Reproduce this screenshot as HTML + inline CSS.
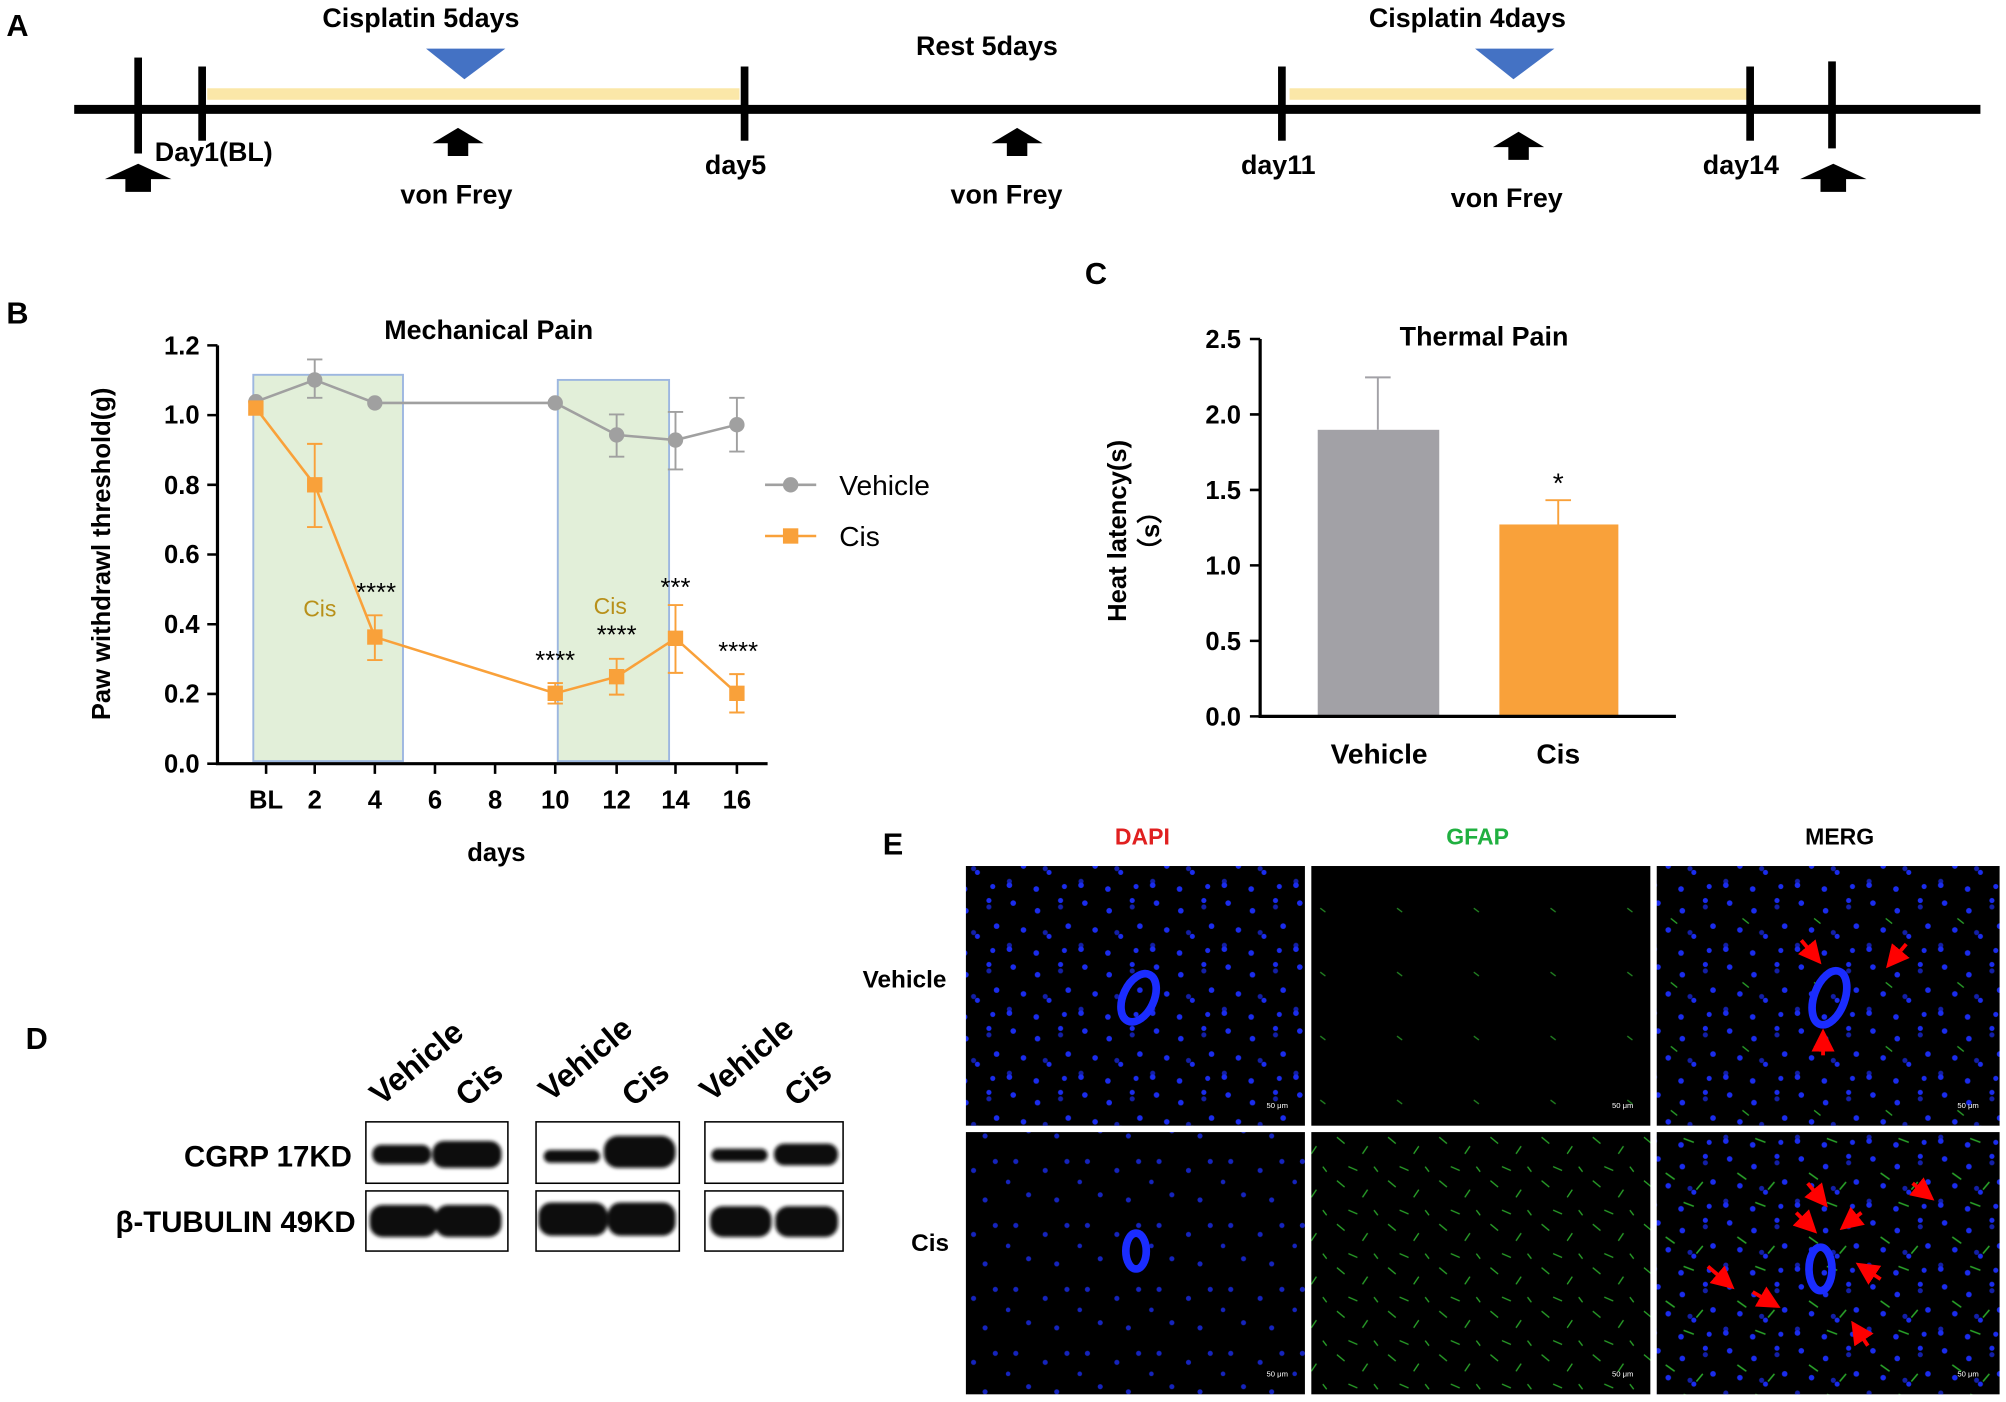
<!DOCTYPE html>
<html><head><meta charset="utf-8"><style>
html,body{margin:0;padding:0;background:#fff;}
svg{display:block;}
text{font-family:"Liberation Sans",Arial,sans-serif;}
</style></head><body>
<svg width="2006" height="1402" viewBox="0 0 1568 1096" preserveAspectRatio="none" xmlns="http://www.w3.org/2000/svg">
<defs>
<pattern id="dots" width="56" height="50" patternUnits="userSpaceOnUse">
<rect width="56" height="50" fill="#000"/>
<g fill="#1a2cee">
<circle cx="8" cy="6" r="2.2"/><circle cx="27" cy="12" r="2.2"/><circle cx="45" cy="4" r="2"/><circle cx="51" cy="24" r="2.2"/>
<circle cx="16" cy="27" r="2.2"/><circle cx="36" cy="32" r="2"/><circle cx="5" cy="42" r="2.2"/><circle cx="26" cy="45" r="2.2"/><circle cx="48" cy="43" r="2"/>
</g></pattern>
<pattern id="dots2" width="56" height="50" patternUnits="userSpaceOnUse">
<rect width="56" height="50" fill="#000"/>
<g fill="#1a2cee" opacity="0.8">
<circle cx="10" cy="8" r="2"/><circle cx="33" cy="15" r="2"/><circle cx="50" cy="8" r="2"/><circle cx="20" cy="34" r="2"/><circle cx="42" cy="38" r="2"/><circle cx="4" cy="24" r="1.8"/>
</g></pattern>
<pattern id="green" width="40" height="34" patternUnits="userSpaceOnUse">
<rect width="40" height="34" fill="#000"/>
<g stroke="#2aa82a" stroke-width="1"><path d="M5 5 l6 5"/><path d="M25 18 l4 -6"/><path d="M14 28 l7 3"/><path d="M34 28 l3 4"/></g>
</pattern>
<pattern id="greenS" width="60" height="50" patternUnits="userSpaceOnUse">
<rect width="60" height="50" fill="#000"/>
<g stroke="#238a23" stroke-width="1"><path d="M12 10 l4 3"/></g>
</pattern>
<pattern id="mergeV" width="56" height="50" patternUnits="userSpaceOnUse">
<rect width="56" height="50" fill="url(#dots)"/>
<g stroke="#2aa82a" stroke-width="1"><path d="M18 18 l5 4"/></g>
</pattern>
<pattern id="mergeC" width="56" height="50" patternUnits="userSpaceOnUse">
<rect width="56" height="50" fill="url(#dots)"/>
<g stroke="#2aa82a" stroke-width="1.2"><path d="M14 17 l7 5"/><path d="M38 30 l5 -6"/><path d="M28 40 l8 3"/></g>
</pattern>
<pattern id="dotsB" width="56" height="50" patternUnits="userSpaceOnUse" x="23" y="19">
<g fill="#1a2cee" opacity="0.7"><circle cx="10" cy="10" r="2"/><circle cx="38" cy="20" r="2"/><circle cx="22" cy="40" r="2"/></g>
</pattern>
<marker id="ra" markerWidth="6" markerHeight="6" refX="3" refY="3" orient="auto"><path d="M0 0 L6 3 L0 6z" fill="#f00"/></marker>
<filter id="blur"><feGaussianBlur stdDeviation="1.5"/></filter>
</defs>

<!-- Panel A -->
<text x="5" y="28" font-size="24" font-weight="bold">A</text>
<rect x="58" y="82" width="1490" height="7" fill="#000"/>
<rect x="162" y="69" width="416" height="9" fill="#fbe7a8"/>
<rect x="1008" y="69" width="358" height="9" fill="#fbe7a8"/>
<g fill="#000">
<rect x="105" y="45" width="6" height="75"/><rect x="155" y="52" width="6" height="58"/>
<rect x="579" y="52" width="6" height="58"/><rect x="999" y="52" width="6" height="58"/>
<rect x="1365" y="52" width="6" height="58"/><rect x="1429" y="48" width="6" height="68"/>
</g>
<path d="M333 38 L395 38 L363 62z" fill="#4472c4"/>
<path d="M1153 38 L1215 38 L1183 62z" fill="#4472c4"/>
<g fill="#000">
<path d="M82 140 L108 128 L134 140 L118 140 L118 150 L98 150 L98 140z"/>
<path d="M338 112 L358 100 L378 112 L366 112 L366 122 L350 122 L350 112z"/>
<path d="M775 112 L795 100 L815 112 L803 112 L803 122 L787 122 L787 112z"/>
<path d="M1167 115 L1187 103 L1207 115 L1195 115 L1195 125 L1179 125 L1179 115z"/>
<path d="M1407 140 L1433 128 L1459 140 L1443 140 L1443 150 L1423 150 L1423 140z"/>
</g>
<g font-size="21" font-weight="bold">
<text x="252" y="21">Cisplatin 5days</text>
<text x="716" y="43">Rest 5days</text>
<text x="1070" y="21">Cisplatin 4days</text>
<text x="121" y="126">Day1(BL)</text>
<text x="313" y="159">von Frey</text>
<text x="551" y="136">day5</text>
<text x="743" y="159">von  Frey</text>
<text x="970" y="136">day11</text>
<text x="1134" y="162">von  Frey</text>
<text x="1331" y="136">day14</text>
</g>

<!-- Panel B -->
<text x="5" y="253" font-size="24" font-weight="bold">B</text>
<text x="382" y="265" font-size="21" font-weight="bold" text-anchor="middle">Mechanical Pain</text>
<rect x="198" y="293" width="117" height="302" fill="#e2efd9" stroke="#9db7e0" stroke-width="1.5"/>
<rect x="436" y="297" width="87" height="298" fill="#e2efd9" stroke="#9db7e0" stroke-width="1.5"/>
<text x="237" y="482" font-size="18" fill="#b8901a">Cis</text>
<text x="464" y="480" font-size="18" fill="#b8901a">Cis</text>
<g stroke="#000" stroke-width="2.5" fill="none">
<path d="M170 270 V597 H600"/>
</g>
<g stroke="#000" stroke-width="2">
<path d="M162 270h8M162 324.5h8M162 379h8M162 433.5h8M162 488h8M162 542.5h8M162 597h8"/>
<path d="M208 597v8M246 597v8M293 597v8M340 597v8M387 597v8M434 597v8M482 597v8M528 597v8M576 597v8"/>
</g>
<g font-size="20" font-weight="bold" text-anchor="end">
<text x="156" y="277">1.2</text><text x="156" y="331">1.0</text><text x="156" y="386">0.8</text><text x="156" y="440">0.6</text><text x="156" y="495">0.4</text><text x="156" y="549">0.2</text><text x="156" y="604">0.0</text>
</g>
<g font-size="20" font-weight="bold" text-anchor="middle">
<text x="208" y="632">BL</text><text x="246" y="632">2</text><text x="293" y="632">4</text><text x="340" y="632">6</text><text x="387" y="632">8</text><text x="434" y="632">10</text><text x="482" y="632">12</text><text x="528" y="632">14</text><text x="576" y="632">16</text>
<text x="388" y="673">days</text>
</g>
<text transform="translate(86 433) rotate(-90)" font-size="20" font-weight="bold" text-anchor="middle">Paw withdrawl threshold(g)</text>
<g stroke="#a0a0a0" stroke-width="1.5" fill="none">
<path d="M246 281v30M240 281h12M240 311h12M482 324v33M476 324h12M476 357h12M528 322v45M522 322h12M522 367h12M576 311v42M570 311h12M570 353h12"/>
<path d="M200 314 L246 297 L293 315 L434 315 L482 340 L528 344 L576 332" stroke-width="2"/>
</g>
<g fill="#a0a0a0"><circle cx="200" cy="314" r="6"/><circle cx="246" cy="297" r="6"/><circle cx="293" cy="315" r="6"/><circle cx="434" cy="315" r="6"/><circle cx="482" cy="340" r="6"/><circle cx="528" cy="344" r="6"/><circle cx="576" cy="332" r="6"/></g>
<g stroke="#f9a13a" stroke-width="1.5" fill="none">
<path d="M246 347v65M240 347h12M240 412h12M293 481v35M287 481h12M287 516h12M434 534v16M428 534h12M428 550h12M482 515v28M476 515h12M476 543h12M528 473v53M522 473h12M522 526h12M576 527v30M570 527h12M570 557h12"/>
<path d="M200 319 L246 379 L293 498 L434 542 L482 529 L528 499 L576 542" stroke-width="2"/>
</g>
<g fill="#f9a13a"><rect x="194" y="313" width="12" height="12"/><rect x="240" y="373" width="12" height="12"/><rect x="287" y="492" width="12" height="12"/><rect x="428" y="536" width="12" height="12"/><rect x="476" y="523" width="12" height="12"/><rect x="522" y="493" width="12" height="12"/><rect x="570" y="536" width="12" height="12"/></g>
<g font-size="20" text-anchor="middle">
<text x="294" y="470">****</text><text x="434" y="523">****</text><text x="482" y="503">****</text><text x="528" y="466">***</text><text x="577" y="516">****</text>
</g>
<path d="M598 379h40" stroke="#a0a0a0" stroke-width="2"/><circle cx="618" cy="379" r="6" fill="#a0a0a0"/>
<text x="656" y="387" font-size="22">Vehicle</text>
<path d="M598 419h40" stroke="#f9a13a" stroke-width="2"/><rect x="612" y="413" width="12" height="12" fill="#f9a13a"/>
<text x="656" y="427" font-size="22">Cis</text>

<!-- Panel C -->
<text x="848" y="222" font-size="24" font-weight="bold">C</text>
<text x="1160" y="270" font-size="21" font-weight="bold" text-anchor="middle">Thermal Pain</text>
<rect x="1030" y="336" width="95" height="224" fill="#a2a1a6"/>
<rect x="1172" y="410" width="93" height="150" fill="#f9a13a"/>
<g stroke="#a2a1a6" stroke-width="1.5"><path d="M1077 336v-41M1067 295h20"/></g>
<g stroke="#f9a13a" stroke-width="1.5"><path d="M1218 410v-19M1208 391h20"/></g>
<text x="1218" y="385" font-size="22" text-anchor="middle">*</text>
<g stroke="#000" stroke-width="2.5" fill="none"><path d="M985 265V560H1310"/></g>
<g stroke="#000" stroke-width="2"><path d="M977 265h8M977 324h8M977 383h8M977 442h8M977 501h8M977 560h8"/></g>
<g font-size="20" font-weight="bold" text-anchor="end">
<text x="970" y="272">2.5</text><text x="970" y="331">2.0</text><text x="970" y="390">1.5</text><text x="970" y="449">1.0</text><text x="970" y="508">0.5</text><text x="970" y="567">0.0</text>
</g>
<g font-size="22" font-weight="bold" text-anchor="middle"><text x="1078" y="597">Vehicle</text><text x="1218" y="597">Cis</text></g>
<text transform="translate(880 415) rotate(-90)" font-size="20" font-weight="bold" text-anchor="middle">Heat latency(s)</text>
<text transform="translate(906 415) rotate(-90)" font-size="20" font-weight="bold" text-anchor="middle">（s）</text>

<!-- Panel D -->
<text x="20" y="820" font-size="24" font-weight="bold">D</text>
<g font-size="25" font-weight="bold">
<text transform="translate(298 865) rotate(-40)">Vehicle</text><text transform="translate(365 866) rotate(-40)">Cis</text>
<text transform="translate(430 862) rotate(-40)">Vehicle</text><text transform="translate(495 866) rotate(-40)">Cis</text>
<text transform="translate(556 862) rotate(-40)">Vehicle</text><text transform="translate(622 866) rotate(-40)">Cis</text>
</g>
<text x="275" y="912" font-size="23" font-weight="bold" text-anchor="end">CGRP 17KD</text>
<text x="278" y="963" font-size="23" font-weight="bold" text-anchor="end">β-TUBULIN 49KD</text>
<g fill="#fff" stroke="#000" stroke-width="1.2">
<rect x="286" y="877" width="111" height="48"/><rect x="419" y="877" width="112" height="48"/><rect x="551" y="877" width="108" height="48"/>
<rect x="286" y="931" width="111" height="47"/><rect x="419" y="931" width="112" height="47"/><rect x="551" y="931" width="108" height="47"/>
</g>
<g fill="#111" filter="url(#blur)">
<rect x="291" y="895" width="46" height="15" rx="7"/><rect x="338" y="892" width="54" height="21" rx="9"/>
<rect x="425" y="899" width="44" height="10" rx="5"/><rect x="472" y="888" width="56" height="25" rx="11"/>
<rect x="556" y="898" width="44" height="10" rx="5"/><rect x="605" y="894" width="50" height="17" rx="8"/>
<rect x="289" y="942" width="53" height="25" rx="10"/><rect x="340" y="942" width="52" height="25" rx="10"/>
<rect x="421" y="940" width="54" height="26" rx="10"/><rect x="475" y="940" width="53" height="26" rx="10"/>
<rect x="555" y="943" width="48" height="24" rx="10"/><rect x="606" y="943" width="49" height="24" rx="10"/>
</g>

<!-- Panel E -->
<text x="690" y="668" font-size="24" font-weight="bold">E</text>
<g font-size="18" font-weight="bold" text-anchor="middle">
<text x="893" y="660" fill="#e02020">DAPI</text><text x="1155" y="660" fill="#20b040">GFAP</text><text x="1438" y="660">MERG</text>
</g>
<text x="707" y="772" font-size="19" font-weight="bold" text-anchor="middle">Vehicle</text>
<text x="727" y="978" font-size="19" font-weight="bold" text-anchor="middle">Cis</text>
<rect x="755" y="677" width="265" height="203" fill="url(#dots)"/>
<rect x="755" y="677" width="265" height="203" fill="url(#dotsB)"/>
<rect x="1025" y="677" width="265" height="203" fill="url(#greenS)"/>
<rect x="1295" y="677" width="268" height="203" fill="url(#mergeV)"/>
<rect x="1295" y="677" width="268" height="203" fill="url(#dotsB)"/>
<rect x="755" y="885" width="265" height="205" fill="url(#dots2)"/>
<rect x="1025" y="885" width="265" height="205" fill="url(#green)"/>
<rect x="1295" y="885" width="268" height="205" fill="url(#mergeC)"/>
<rect x="1295" y="885" width="268" height="205" fill="url(#dotsB)"/>
<g fill="none" stroke="#1a2cff" stroke-width="6">
<ellipse cx="890" cy="780" rx="12" ry="20" transform="rotate(25 890 780)"/>
<ellipse cx="1430" cy="780" rx="12" ry="22" transform="rotate(20 1430 780)"/>
<ellipse cx="888" cy="978" rx="8" ry="14"/>
<ellipse cx="1423" cy="992" rx="9" ry="17"/>
</g>
<g stroke="#f00" stroke-width="3" marker-end="url(#ra)">
<path d="M1408 735 l10 12"/><path d="M1490 738 l-10 12"/><path d="M1425 825 l0 -12"/>
<path d="M1413 925 l10 12"/><path d="M1495 925 l10 8"/><path d="M1404 948 l10 10"/><path d="M1455 948 l-10 8"/>
<path d="M1470 1000 l-12 -8"/><path d="M1335 990 l14 12"/><path d="M1370 1010 l14 8"/><path d="M1460 1052 l-8 -12"/>
</g>
<g fill="#fff" font-size="6">
<text x="990" y="866">50 μm</text><text x="1260" y="866">50 μm</text><text x="1530" y="866">50 μm</text>
<text x="990" y="1076">50 μm</text><text x="1260" y="1076">50 μm</text><text x="1530" y="1076">50 μm</text>
</g>
</svg>
</body></html>
